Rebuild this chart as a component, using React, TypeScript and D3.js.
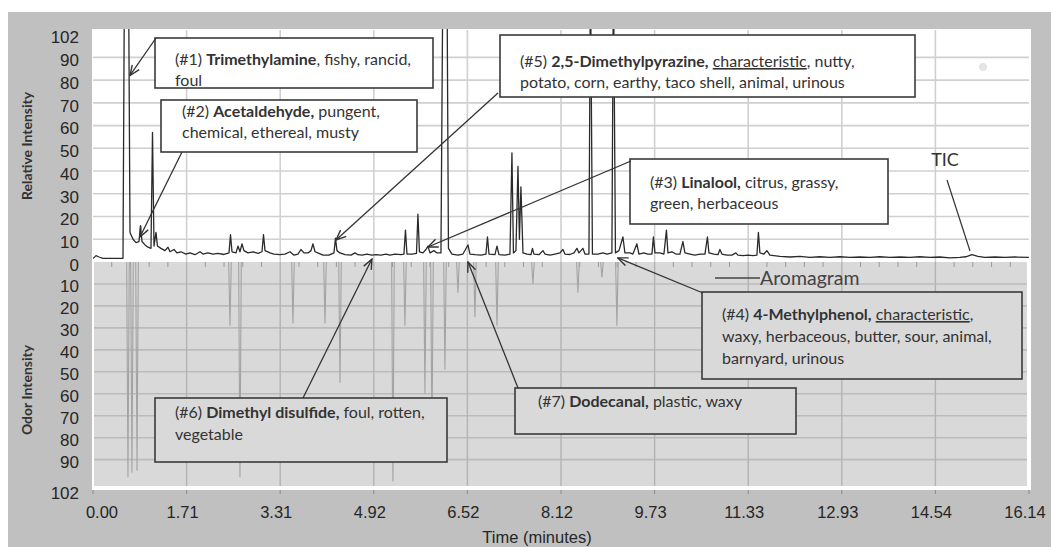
import React from "react";
import * as d3 from "d3";

// ---------------- DATA ----------------
const xTickLabels = ["0.00", "1.71", "3.31", "4.92", "6.52", "8.12", "9.73", "11.33", "12.93", "14.54", "16.14"];
const xMaxTime = 16.14;
const yTickValues = [0, 10, 20, 30, 40, 50, 60, 70, 80, 90, 102];
const yTickLabels = ["0", "10", "20", "30", "40", "50", "60", "70", "80", "90", "102"];

// TIC trace (time in minutes, relative intensity); values above 102 are off-scale peaks
const ticTime = [
  0.000, 0.052, 0.103, 0.172, 0.517, 0.543, 0.612, 0.638, 0.690, 0.741, 0.793, 0.819, 0.845, 0.897, 0.948,
  1.000, 1.026, 1.052, 1.086, 1.112, 1.172, 1.241, 1.293, 1.328, 1.397, 1.448, 1.517, 1.603, 1.672, 1.759,
  1.845, 1.897, 1.983, 2.069, 2.155, 2.259, 2.345, 2.371, 2.397, 2.466, 2.500, 2.534, 2.569, 2.603, 2.672,
  2.759, 2.845, 2.914, 2.940, 2.966, 3.052, 3.121, 3.224, 3.310, 3.397, 3.466, 3.534, 3.586, 3.638, 3.707,
  3.759, 3.793, 3.828, 3.897, 3.966, 4.069, 4.155, 4.181, 4.207, 4.259, 4.345, 4.448, 4.517, 4.569, 4.638,
  4.724, 4.810, 4.879, 4.966, 5.052, 5.121, 5.207, 5.310, 5.362, 5.388, 5.414, 5.500, 5.578, 5.603, 5.629,
  5.690, 5.741, 5.776, 5.810, 5.879, 5.931, 6.000, 6.034, 6.103, 6.129, 6.190, 6.293, 6.379, 6.466, 6.500,
  6.586, 6.690, 6.776, 6.802, 6.828, 6.931, 6.966, 7.000, 7.103, 7.190, 7.224, 7.250, 7.293, 7.328, 7.353,
  7.379, 7.414, 7.483, 7.552, 7.578, 7.603, 7.690, 7.759, 7.793, 7.879, 7.966, 8.052, 8.103, 8.138, 8.224,
  8.293, 8.345, 8.379, 8.448, 8.483, 8.552, 8.578, 8.612, 8.707, 8.793, 8.862, 8.948, 8.974, 9.009, 9.069,
  9.138, 9.172, 9.259, 9.310, 9.379, 9.414, 9.500, 9.569, 9.638, 9.664, 9.690, 9.776, 9.845, 9.888, 9.914,
  9.983, 10.052, 10.121, 10.172, 10.207, 10.293, 10.379, 10.466, 10.552, 10.595, 10.621, 10.707, 10.776, 10.810, 10.845,
  10.931, 11.017, 11.086, 11.121, 11.207, 11.293, 11.379, 11.448, 11.474, 11.500, 11.569, 11.621, 11.672, 11.845, 12.017,
  12.190, 12.362, 12.534, 12.707, 12.879, 13.052, 13.224, 13.397, 13.569, 13.741, 13.914, 14.086, 14.259, 14.431, 14.603,
  14.776, 14.948, 15.052, 15.155, 15.259, 15.379, 15.552, 15.724, 15.897, 16.138,
];
const ticValue = [
  1.5, 2.8, 2.2, 1.6, 1.6, 130, 130, 13, 10, 8.5, 9, 16, 9, 7.5, 6.5,
  6, 57, 7, 13, 7, 6, 5, 6.5, 4.5, 5.5, 4, 4.5, 3.5, 4, 3.2,
  4.5, 3.5, 4, 3.5, 3.8, 3.3, 4, 12, 4.5, 4, 7, 4.5, 8, 5, 4,
  4.5, 3.8, 4.5, 12, 5, 4, 3.5, 3.2, 3.5, 4.5, 3, 3.5, 5.5, 4, 4,
  5, 8, 4.5, 3.8, 3, 3, 4, 10.5, 5, 4, 3.2, 3, 4, 3.2, 3,
  3.5, 3, 3.2, 3, 3.5, 3, 3.5, 3.2, 3.5, 14, 3.5, 3.5, 3.8, 21, 4.5,
  4, 5.5, 7, 4, 5, 4, 4, 130, 130, 6, 3.5, 3, 3.5, 7.5, 3.5,
  3.2, 3, 3.5, 11, 3.5, 3.2, 7, 3.2, 3, 3.5, 48, 4, 5, 42, 10,
  33, 4, 3.5, 3.2, 6, 3.5, 3.2, 5, 3.5, 3, 3.5, 4, 5.5, 3.5, 3.3,
  4, 6, 4, 6, 3.5, 3.5, 130, 3.5, 3.5, 4, 3.5, 4, 130, 4, 5,
  11, 4, 4, 3.5, 8, 3.5, 4, 3.5, 3.5, 11, 4, 4, 3.5, 14, 4,
  4.5, 3.5, 3.5, 9, 4, 3.5, 3, 3.5, 3.5, 11, 4, 3.5, 3.2, 5.5, 3.5,
  3, 3, 4, 3, 2.8, 3, 2.8, 3, 13, 4, 3.5, 5, 3, 2.5, 2.2,
  2.5, 2, 2.3, 2, 2.3, 2, 2.2, 2, 2.3, 2, 2.2, 2, 2.3, 2, 2.2,
  1.8, 2, 2.3, 3.2, 2.5, 2, 2.2, 2, 2.2, 2,
];

// Aromagram (time in minutes, odor intensity)
const aromaTime = [0.603, 0.672, 0.759, 2.362, 2.534, 3.448, 4.000, 4.259, 5.172, 5.379, 5.724, 5.845, 6.069, 6.293, 6.586, 6.966, 7.586, 8.362, 8.776, 9.034];
const aromaValue = [98, 96, 95, 29, 98, 28, 28, 55, 100, 29, 60, 80, 49, 14, 25, 29, 10, 14, 7, 29];

// ---------------- LAYOUT ----------------
const W = 1051;
const H = 547;
const L = 93;
const R = 1029;
const TOP = 30;
const ZERO = 262;
const BOT = 486;

const FONT_AX = "'Liberation Sans', Arial, sans-serif";
const FONT_TX = "Lato, 'Open Sans', sans-serif";

type Seg = { t: string; b?: boolean; u?: boolean };
type Ann = {
  box: [number, number, number, number];
  fill: string;
  textX: number;
  lineY: number[];
  lines: Seg[][];
  from: [number, number];
  to: { t: number; v: number; half: "top" | "bottom" };
};

export default function App() {
  const x = d3.scaleLinear().domain([0, xMaxTime]).range([L, R]);
  const yTop = d3.scaleLinear().domain([0, 102]).range([ZERO, TOP]);
  const yBot = d3.scaleLinear().domain([0, 102]).range([ZERO, BOT]);
  const majorTicks = xTickLabels.map((_, i) => (i * xMaxTime) / 10);
  const minorTicks: number[] = [];
  for (let i = 0; i < 50; i++) if (i % 5 !== 0) minorTicks.push((i * xMaxTime) / 50);

  const ticLine = d3
    .line<number>()
    .x((_, i) => x(ticTime[i]))
    .y((_, i) => yTop(ticValue[i]));

  const annotations: Ann[] = [
    {
      box: [155, 38, 433, 88], fill: "#ffffff", textX: 175, lineY: [65, 86],
      lines: [[{ t: "(#1) " }, { t: "Trimethylamine", b: true }, { t: ", fishy, rancid," }], [{ t: "foul" }]],
      from: [156, 38], to: { t: 0.638, v: 82, half: "top" },
    },
    {
      box: [161, 100, 417, 152], fill: "#ffffff", textX: 182, lineY: [117, 138],
      lines: [[{ t: "(#2) " }, { t: "Acetaldehyde,", b: true }, { t: " pungent," }], [{ t: "chemical, ethereal, musty" }]],
      from: [182, 152], to: { t: 0.81, v: 11, half: "top" },
    },
    {
      box: [500, 35, 915, 97], fill: "#ffffff", textX: 520, lineY: [67, 88],
      lines: [
        [{ t: "(#5) " }, { t: "2,5-Dimethylpyrazine,", b: true }, { t: " " }, { t: "characteristic", u: true }, { t: ", nutty," }],
        [{ t: "potato, corn, earthy, taco shell, animal, urinous" }],
      ],
      from: [498, 93], to: { t: 4.19, v: 9.7, half: "top" },
    },
    {
      box: [630, 159, 888, 224], fill: "#ffffff", textX: 650, lineY: [188, 209],
      lines: [[{ t: "(#3) " }, { t: "Linalool,", b: true }, { t: " citrus, grassy," }], [{ t: "green, herbaceous" }]],
      from: [631, 161], to: { t: 5.776, v: 6.6, half: "top" },
    },
    {
      box: [702, 292, 1022, 379], fill: "#d9d9d9", textX: 722, lineY: [320, 342, 364],
      lines: [
        [{ t: "(#4) " }, { t: "4-Methylphenol,", b: true }, { t: " " }, { t: "characteristic", u: true }, { t: "," }],
        [{ t: "waxy, herbaceous, butter, sour, animal," }],
        [{ t: "barnyard, urinous" }],
      ],
      from: [703, 293], to: { t: 9.05, v: 1.8, half: "top" },
    },
    {
      box: [155, 398, 447, 462], fill: "#d9d9d9", textX: 175, lineY: [418, 440],
      lines: [[{ t: "(#6) " }, { t: "Dimethyl disulfide,", b: true }, { t: " foul, rotten," }], [{ t: "vegetable" }]],
      from: [303, 398], to: { t: 4.81, v: 1.3, half: "top" },
    },
    {
      box: [515, 388, 796, 434], fill: "#d9d9d9", textX: 538, lineY: [407],
      lines: [[{ t: "(#7) " }, { t: "Dodecanal,", b: true }, { t: " plastic, waxy" }]],
      from: [518, 388], to: { t: 6.466, v: 0, half: "top" },
    },
  ];

  const ptOf = (a: Ann) => [x(a.to.t), a.to.half === "top" ? yTop(a.to.v) : yBot(a.to.v)];

  return (
    <div style={{ position: "absolute", left: 0, top: 0 }}>
      <svg width={W} height={H} viewBox={`0 0 ${W} ${H}`} style={{ display: "block" }}>
        <defs>
          <clipPath id="clipTop">
            <rect x={L} y={TOP - 1} width={R - L} height={ZERO - TOP + 1} />
          </clipPath>
          <clipPath id="clipBot">
            <rect x={L} y={ZERO} width={R - L} height={BOT - ZERO} />
          </clipPath>
          <marker id="arr" viewBox="0 0 12 10" refX="11" refY="5" markerWidth="12" markerHeight="10" markerUnits="userSpaceOnUse" orient="auto">
            <path d="M1,0.8 L11,5 L1,9.2" fill="none" stroke="#333" strokeWidth="1.4" />
          </marker>
        </defs>

        {/* page background */}
        <rect x={0} y={0} width={W} height={H} fill="#ffffff" />
        <rect x={8} y={12} width={W - 8} height={H - 12} fill="#c0c0c0" />

        {/* plot area */}
        <rect x={L - 1} y={TOP - 1} width={R - L + 3} height={BOT - TOP + 5} fill="#ffffff" />
        <rect x={L + 1} y={ZERO} width={R - L - 3} height={BOT - ZERO} fill="#d9d9d9" />

        {/* gridlines */}
        {yTickValues.slice(1, -1).map((v) => (
          <line key={"gt" + v} x1={L} x2={R} y1={yTop(v)} y2={yTop(v)} stroke="#d0d0d0" strokeWidth={1.7} />
        ))}
        {yTickValues.slice(1, -1).map((v) => (
          <line key={"gb" + v} x1={L + 1} x2={R - 2} y1={yBot(v)} y2={yBot(v)} stroke="#bbbbbb" strokeWidth={1.6} />
        ))}
        {majorTicks.slice(1, -1).map((t) => (
          <g key={"gv" + t}>
            <line x1={x(t)} x2={x(t)} y1={TOP} y2={ZERO} stroke="#d0d0d0" strokeWidth={1.6} />
            <line x1={x(t)} x2={x(t)} y1={ZERO} y2={BOT} stroke="#b3b3b3" strokeWidth={1.4} />
          </g>
        ))}
        {minorTicks.map((t) => (
          <line key={"mt" + t} x1={x(t)} x2={x(t)} y1={ZERO} y2={ZERO + 5} stroke="#9a9a9a" strokeWidth={1} />
        ))}
        {majorTicks.map((t) => (
          <line key={"mx" + t} x1={x(t)} x2={x(t)} y1={BOT + 4} y2={BOT + 8} stroke="#8a8a8a" strokeWidth={1} />
        ))}

        {/* aromagram */}
        <g clipPath="url(#clipBot)">
          {aromaTime.map((t, i) => (
            <path
              key={"ar" + i}
              d={`M${x(t) - 1.3},${yBot(0)} L${x(t)},${yBot(aromaValue[i])} L${x(t) + 1.3},${yBot(0)}`}
              fill="none"
              stroke="#a3a3a3"
              strokeWidth={1.1}
            />
          ))}
        </g>

        {/* TIC */}
        <g clipPath="url(#clipTop)">
          <path d={ticLine(ticValue) || ""} fill="none" stroke="#2a2a2a" strokeWidth={1.3} strokeLinejoin="round" />
        </g>

        {/* faint blemish */}
        <circle cx={983} cy={67} r={4} fill="#e4e4e4" />

        {/* annotations */}
        {annotations.map((a, k) => {
          const [x0, y0, x1, y1] = a.box;
          const [tx, ty] = ptOf(a);
          return (
            <g key={"an" + k}>
              <rect x={x0} y={y0} width={x1 - x0} height={y1 - y0} fill={a.fill} stroke="#3a3a3a" strokeWidth={1.6} />
              {a.lines.map((ln, j) => (
                <text key={j} x={a.textX} y={a.lineY[j]} fontFamily={FONT_TX} fontSize={16} fill="#333">
                  {ln.map((s, m) => (
                    <tspan key={m} fontWeight={s.b ? 700 : 400} textDecoration={s.u ? "underline" : undefined} style={{ whiteSpace: "pre" }}>
                      {s.t}
                    </tspan>
                  ))}
                </text>
              ))}
              <line x1={a.from[0]} y1={a.from[1]} x2={tx} y2={ty} stroke="#333" strokeWidth={1.3} markerEnd="url(#arr)" />
            </g>
          );
        })}

        {/* TIC label */}
        <text x={945} y={166} textAnchor="middle" fontFamily={FONT_TX} fontSize={18} fill="#333">TIC</text>
        <line x1={947} y1={180} x2={970} y2={251} stroke="#333" strokeWidth={1.2} />

        {/* Aromagram legend */}
        <line x1={715} x2={760} y1={278} y2={278} stroke="#444" strokeWidth={1.3} />
        <text x={760} y={285} fontFamily={FONT_TX} fontSize={19.5} fill="#444">Aromagram</text>

        {/* y tick labels */}
        {yTickValues.map((v, i) => (
          <text key={"yt" + v} x={79} y={(v === 102 ? yTop(v) + 7 : yTop(v) + 3)} dy="0.35em" textAnchor="end" fontFamily={FONT_AX} fontSize={17} fill="#262626">
            {yTickLabels[i]}
          </text>
        ))}
        {yTickValues.slice(1).map((v, i) => (
          <text key={"yb" + v} x={79} y={(v === 102 ? yBot(v) + 7 : yBot(v) + 2)} dy="0.35em" textAnchor="end" fontFamily={FONT_AX} fontSize={17} fill="#262626">
            {yTickLabels[i + 1]}
          </text>
        ))}

        {/* x tick labels */}
        {majorTicks.map((t, i) => (
          <text key={"xt" + i} x={i === 0 ? x(t) + 9 : x(t) - 4} y={512} dy="0.35em" textAnchor="middle" fontFamily={FONT_AX} fontSize={16.5} fill="#262626">
            {xTickLabels[i]}
          </text>
        ))}
        <text x={537} y={537} dy="0.35em" textAnchor="middle" fontFamily={FONT_AX} fontSize={16.5} fill="#262626">Time (minutes)</text>

        {/* axis titles */}
        <text transform="translate(27,146) rotate(-90)" dy="0.35em" textAnchor="middle" fontFamily={FONT_TX} fontWeight={700} fontSize={14} fill="#333">Relative Intensity</text>
        <text transform="translate(27,390) rotate(-90)" dy="0.35em" textAnchor="middle" fontFamily={FONT_TX} fontWeight={700} fontSize={14} fill="#333">Odor Intensity</text>
      </svg>
    </div>
  );
}
